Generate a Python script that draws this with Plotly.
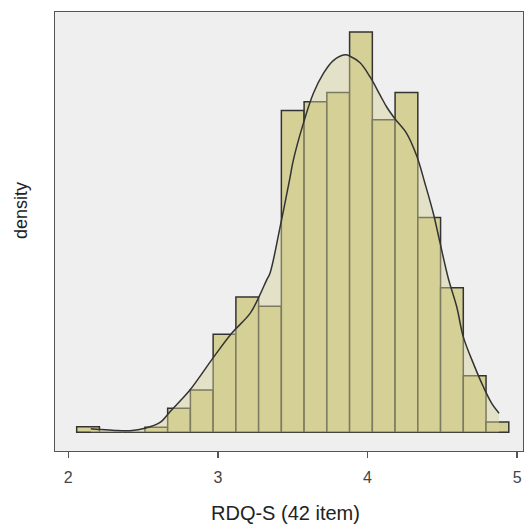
import plotly.graph_objects as go

# Histogram bins (left edge, width) and bar densities
bin_start = 2.056
bin_width = 0.152
bar_density = [0.0127, 0.0, 0.0, 0.0113, 0.0543, 0.0957, 0.222, 0.306, 0.285,
               0.728, 0.748, 0.769, 0.906, 0.707, 0.769, 0.486, 0.327, 0.128, 0.0233]

# Kernel density curve
kde_x = [2.150, 2.212, 2.312, 2.412, 2.513, 2.613, 2.680, 2.747, 2.813, 2.969,
         3.092, 3.215, 3.275, 3.326, 3.348, 3.414, 3.481, 3.504, 3.571, 3.638,
         3.705, 3.771, 3.850, 3.883, 3.950, 4.017, 4.084, 4.128, 4.184, 4.262,
         4.329, 4.384, 4.440, 4.485, 4.540, 4.596, 4.640, 4.707, 4.774, 4.830, 4.879]
kde_y = [0.0081, 0.0063, 0.0041, 0.0036, 0.0090, 0.0222, 0.0466, 0.0708, 0.0957, 0.169,
         0.224, 0.269, 0.307, 0.345, 0.360, 0.462, 0.575, 0.616, 0.699, 0.767,
         0.812, 0.841, 0.854, 0.851, 0.836, 0.804, 0.763, 0.736, 0.709, 0.676,
         0.625, 0.563, 0.495, 0.428, 0.348, 0.284, 0.216, 0.156, 0.103, 0.0656, 0.0430]

x_ticks = [2, 3, 4, 5]
x_title = "RDQ-S (42 item)"
y_title = "density"

bar_x = [bin_start + bin_width * (i + 0.5) for i in range(len(bar_density))]

FONT = "Liberation Sans, Arial, Helvetica, sans-serif"
KHAKI = "rgb(213,208,150)"

fig = go.Figure()
fig.add_trace(go.Bar(
    x=bar_x, y=bar_density, width=bin_width,
    marker=dict(color=KHAKI, line=dict(color="#333333", width=1.5)),
    showlegend=False, hoverinfo="skip",
))
fig.add_trace(go.Scatter(
    x=kde_x, y=kde_y, mode="none", fill="tozeroy",
    fillcolor="rgba(213,208,150,0.45)", showlegend=False, hoverinfo="skip",
))
fig.add_trace(go.Scatter(
    x=kde_x, y=kde_y, mode="lines", line=dict(color="#333333", width=1.5, shape="spline"),
    showlegend=False, hoverinfo="skip",
))

fig.update_layout(
    width=524, height=526,
    margin=dict(l=55, r=1, t=12, b=75, autoexpand=False),
    paper_bgcolor="white", plot_bgcolor="#efefef",
    bargap=0,
    font=dict(family=FONT, color="#444444"),
    xaxis=dict(range=[1.911, 5.039], tickvals=x_ticks, ticktext=[str(v) for v in x_ticks],
               automargin=False, ticklabelstandoff=6,
               showgrid=False, zeroline=False, showline=True, mirror=True,
               linecolor="#555555", linewidth=1, ticks="outside", ticklen=6,
               tickwidth=1.5, tickcolor="#555555", tickfont=dict(size=16, color="#444444")),
    yaxis=dict(range=[-0.0423, 0.951], showticklabels=False, ticks="", automargin=False,
               showgrid=False, zeroline=False, showline=True, mirror=True,
               linecolor="#555555", linewidth=1),
    annotations=[
        dict(text=x_title, xref="paper", yref="paper", x=(285 - 55) / 468, y=-(513 - 451) / 439,
             xanchor="center", yanchor="middle", showarrow=False,
             font=dict(size=20, color="#222222", family=FONT)),
        dict(text=y_title, xref="paper", yref="paper", x=-(55 - 21) / 468, y=(451 - 211) / 439,
             xanchor="center", yanchor="middle", showarrow=False, textangle=-90,
             font=dict(size=18, color="#222222", family=FONT)),
    ],
)

fig.write_html(
    "out.html",
    config={"displayModeBar": False, "staticPlot": True},
    post_script="document.body.style.margin='0';document.body.style.padding='0';"
                "document.body.style.overflow='hidden';",
)
